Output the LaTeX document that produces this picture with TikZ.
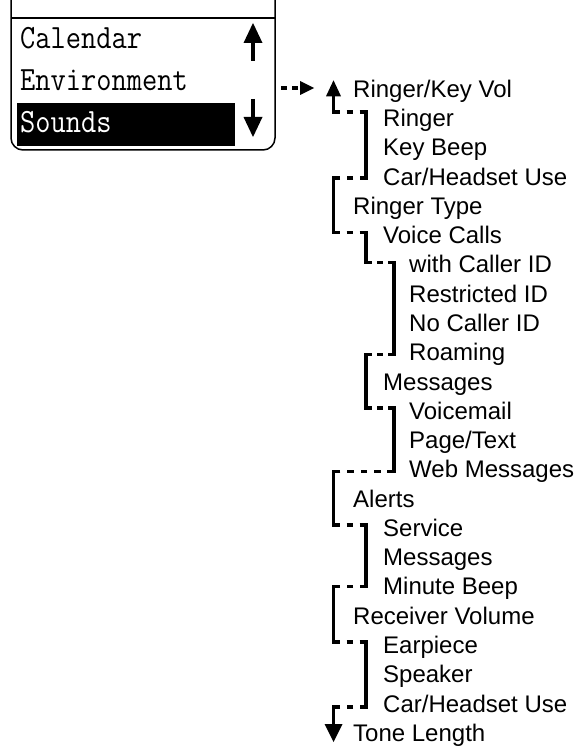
\documentclass[tikz,border=0pt]{standalone}
\usepackage{fontspec}
\setmainfont{Liberation Sans}
\usetikzlibrary{calc}
\begin{document}
\begin{tikzpicture}[x=1pt,y=-1pt,
  item/.style={anchor=base west, inner sep=0pt, font=\fontsize{24}{28}\selectfont},
  scr/.style={anchor=base west, inner sep=0pt, font=\fontsize{34}{34}\ttfamily},
  frame/.style={line width=1.5pt, rounded corners=12pt},
  vl/.style={line width=3.6pt, line cap=rect},
  sl/.style={line width=3.6pt},
  hd/.style={line width=3.6pt, dash pattern=on #1 off #1}
]
\useasboundingbox (0,0) rectangle (574,751);

% ---- screen ----
\draw[frame] (11,0) -- (11,150) -- (275,150) -- (275,0);
\draw[line width=1.5pt] (11,18) -- (275,18);
\fill[black] (17,103) rectangle (235,146);
\node[scr] (cal) at (20,48.5) {\scalebox{0.87}[1]{Calendar}};
\node[scr] (env) at (20,91) {\scalebox{0.87}[1]{Environment}};
\node[scr,text=white] (snd) at (20,133) {\scalebox{0.87}[1]{Sounds}};
% scroll arrows
\coordinate (su0) at (253,61);
\coordinate (su1) at (253,23);
\coordinate (sd0) at (253,99);
\coordinate (sd1) at (253,137);
\draw[sl] (su0) -- ($(su1)+(0,19)$);
\fill (su1) -- ($(su1)+(9.5,20)$) -- ($(su1)+(-9.5,20)$) -- cycle;
\draw[sl] (sd0) -- ($(sd1)+(0,-19)$);
\fill (sd1) -- ($(sd1)+(9.5,-20)$) -- ($(sd1)+(-9.5,-20)$) -- cycle;

% ---- menu items ----
\node[item] (r0)  at (353, 97.3)  {Ringer/Key Vol};
\node[item] (r1)  at (383,126.6)  {Ringer};
\node[item] (r2)  at (383,155.8)  {Key Beep};
\node[item] (r3)  at (383,185.1)  {Car/Headset Use};
\node[item] (r4)  at (353,214.4)  {Ringer Type};
\node[item] (r5)  at (383,243.7)  {Voice Calls};
\node[item] (r6)  at (409,272.9)  {with Caller ID};
\node[item] (r7)  at (409,302.2)  {Restricted ID};
\node[item] (r8)  at (409,331.5)  {No Caller ID};
\node[item] (r9)  at (409,360.7)  {Roaming};
\node[item] (r10) at (383,390.0)  {Messages};
\node[item] (r11) at (409,419.3)  {Voicemail};
\node[item] (r12) at (409,448.5)  {Page/Text};
\node[item] (r13) at (409,477.8)  {Web Messages};
\node[item] (r14) at (353,507.1)  {Alerts};
\node[item] (r15) at (383,536.3)  {Service};
\node[item] (r16) at (383,565.6)  {Messages};
\node[item] (r17) at (383,594.9)  {Minute Beep};
\node[item] (r18) at (353,624.2)  {Receiver Volume};
\node[item] (r19) at (383,653.4)  {Earpiece};
\node[item] (r20) at (383,682.7)  {Speaker};
\node[item] (r21) at (383,712.0)  {Car/Headset Use};
\node[item] (r22) at (353,741.2)  {Tone Length};

% ---- guide columns ----
\coordinate (g0) at (333.5,0);
\coordinate (g1) at (366,0);
\coordinate (g2) at (394,0);

% ---- entry arrow from screen ----
\coordinate (ein) at (281,88);
\coordinate (eout) at (314,88);
\draw[hd=5.5pt] (ein) -- ($(eout)+(-14,0)$);
\fill (eout) -- ($(eout)+(-14,-7)$) -- ($(eout)+(-14,7)$) -- cycle;

% ---- corners ----
\coordinate (k1)  at ($(g0|-r1.base)+(0,-14.5)$);
\coordinate (k1b) at ($(g1|-r1.base)+(0,-14.5)$);
\coordinate (k3)  at ($(g1|-r3.base)+(0,-7.3)$);
\coordinate (k3b) at ($(g0|-r3.base)+(0,-7.3)$);
\coordinate (k5)  at ($(g0|-r5.base)+(0,-11.3)$);
\coordinate (k5b) at ($(g1|-r5.base)+(0,-11.3)$);
\coordinate (k6)  at ($(g1|-r6.base)+(0,-10.3)$);
\coordinate (k6b) at ($(g2|-r6.base)+(0,-10.3)$);
\coordinate (k9)  at ($(g2|-r9.base)+(0,-6.3)$);
\coordinate (k9b) at ($(g1|-r9.base)+(0,-6.3)$);
\coordinate (k11) at ($(g1|-r11.base)+(0,-11.3)$);
\coordinate (k11b) at ($(g2|-r11.base)+(0,-11.3)$);
\coordinate (k13) at ($(g2|-r13.base)+(0,-6.3)$);
\coordinate (k13b) at ($(g0|-r13.base)+(0,-6.3)$);
\coordinate (k15) at ($(g0|-r15.base)+(0,-11.3)$);
\coordinate (k15b) at ($(g1|-r15.base)+(0,-11.3)$);
\coordinate (k17) at ($(g1|-r17.base)+(0,-8.3)$);
\coordinate (k17b) at ($(g0|-r17.base)+(0,-8.3)$);
\coordinate (k19) at ($(g0|-r19.base)+(0,-11.5)$);
\coordinate (k19b) at ($(g1|-r19.base)+(0,-11.5)$);
\coordinate (k21) at ($(g1|-r21.base)+(0,-5.3)$);
\coordinate (k21b) at ($(g0|-r21.base)+(0,-5.3)$);
\coordinate (upTip) at ($(g0|-r0.base)+(0,-17)$);
\coordinate (dnTip) at ($(g0|-r22.base)+(0,0.8)$);

% ---- vertical solid runs ----
\draw[vl] (k1) -- ($(upTip)+(0,15)$);
\fill (upTip) -- ($(upTip)+(7.5,16)$) -- ($(upTip)+(-7.5,16)$) -- cycle;
\draw[vl] (k1b) -- (k3);
\draw[vl] (k3b) -- (k5);
\draw[vl] (k5b) -- (k6);
\draw[vl] (k6b) -- (k9);
\draw[vl] (k9b) -- (k11);
\draw[vl] (k11b) -- (k13);
\draw[vl] (k13b) -- (k15);
\draw[vl] (k15b) -- (k17);
\draw[vl] (k17b) -- (k19);
\draw[vl] (k19b) -- (k21);
\draw[vl] (k21b) -- ($(dnTip)+(0,-17)$);
\fill (dnTip) -- ($(dnTip)+(9,-18)$) -- ($(dnTip)+(-9,-18)$) -- cycle;

% ---- dashed horizontal runs ----
\draw[hd=6.5pt] (k1) -- (k1b);
\draw[hd=6.5pt] (k3) -- (k3b);
\draw[hd=6.5pt] (k5) -- (k5b);
\draw[hd=5.6pt] (k6) -- (k6b);
\draw[hd=5.6pt] (k9) -- (k9b);
\draw[hd=5.6pt] (k11) -- (k11b);
\draw[hd=6.7pt] (k13) -- (k13b);
\draw[hd=6.5pt] (k15) -- (k15b);
\draw[hd=6.5pt] (k17) -- (k17b);
\draw[hd=6.5pt] (k19) -- (k19b);
\draw[hd=6.5pt] (k21) -- (k21b);
\end{tikzpicture}
\end{document}
